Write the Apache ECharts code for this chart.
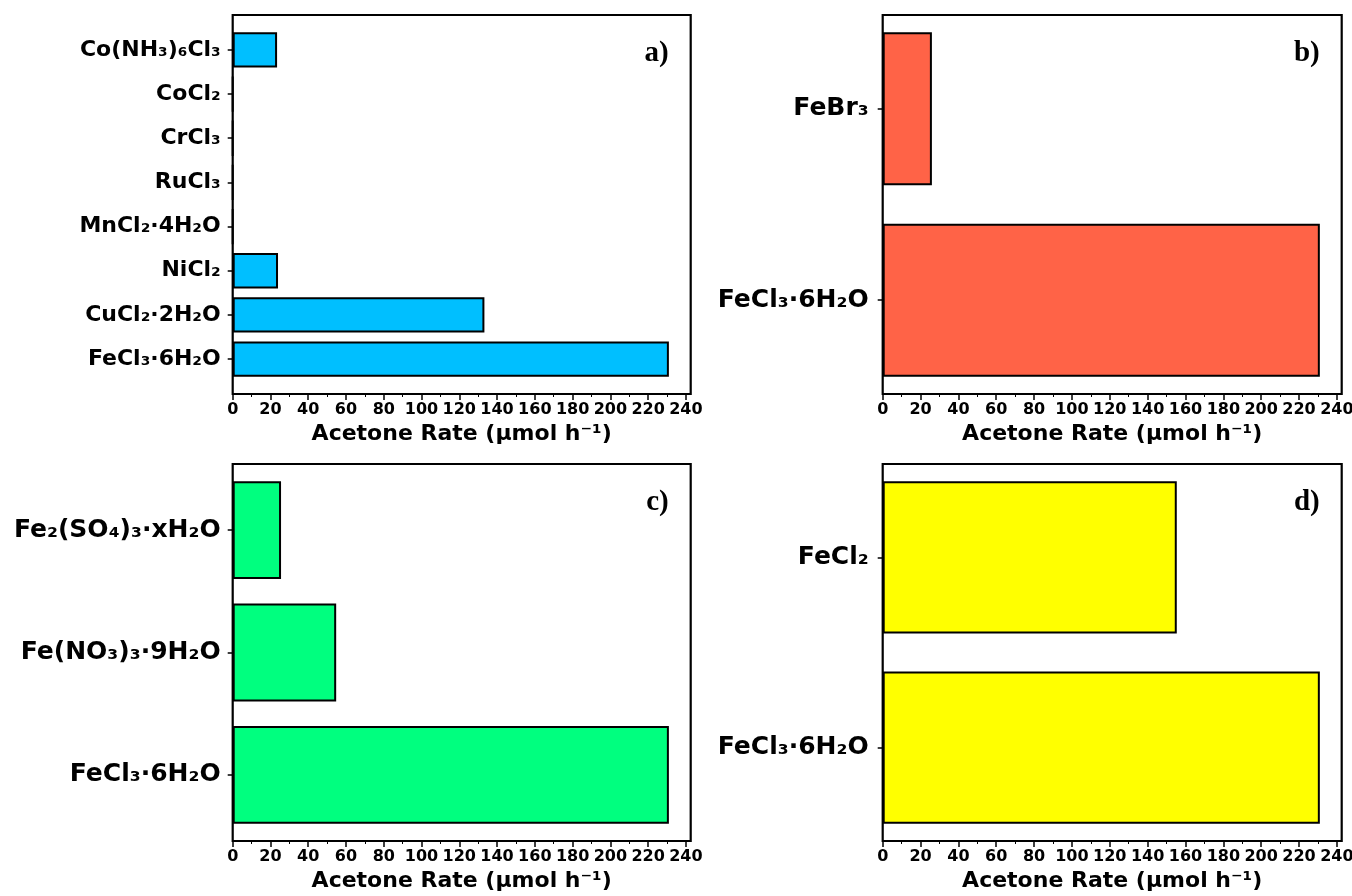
<!DOCTYPE html>
<html>
<head>
<meta charset="utf-8">
<script src="https://cdn.jsdelivr.net/npm/echarts@6/dist/echarts.min.js"></script>
<style>
html,body{margin:0;padding:0;background:#fff;}
#chart{width:1352px;height:896px;}
</style>
</head>
<body>
<div id="chart"></div>
<script>
// ---- data (bottom-to-top order, as in the reference) ----
const catsA = ['FeCl₃·6H₂O','CuCl₂·2H₂O','NiCl₂','MnCl₂·4H₂O','RuCl₃','CrCl₃','CoCl₂','Co(NH₃)₆Cl₃'];
const valsA = [231, 133.3, 24, 0, 0, 0, 0, 23.5];
const catsB = ['FeCl₃·6H₂O','FeBr₃'];
const valsB = [231, 26];
const catsC = ['FeCl₃·6H₂O','Fe(NO₃)₃·9H₂O','Fe₂(SO₄)₃·xH₂O'];
const valsC = [231, 54.8, 25.6];
const catsD = ['FeCl₃·6H₂O','FeCl₂'];
const valsD = [231, 155.4];
const xTicks = [0,20,40,60,80,100,120,140,160,180,200,220,240];
const xMinorTicks = [10,30,50,70,90,110,130,150,170,190,210,230];
const xMax = 242.55;
const xName = 'Acetone Rate (μmol h⁻¹)';
const panelTags = ['a)','b)','c)','d)'];

const FONT = 'DejaVu Sans';
const panels = [
  {cats: catsA, vals: valsA, color: '#00BFFF', frame: [232.7, 15, 690.7, 394], labelSize: 22, labelMargin: 12},
  {cats: catsB, vals: valsB, color: '#FF6347', frame: [882.7, 15, 1341.7, 394], labelSize: 25, labelMargin: 14},
  {cats: catsC, vals: valsC, color: '#00FF7F', frame: [232.7, 464, 690.7, 841], labelSize: 25, labelMargin: 12},
  {cats: catsD, vals: valsD, color: '#FFFF00', frame: [882.7, 464, 1341.7, 841], labelSize: 25, labelMargin: 14}
];

const option = {
  backgroundColor: '#ffffff',
  animation: false,
  grid: [], xAxis: [], yAxis: [], series: [], graphic: []
};

panels.forEach((p, i) => {
  const [l, t, r, b] = p.frame;
  const fw = r - l, fh = b - t;
  const n = p.cats.length;
  const total = (n - 0.2) * 1.1;       // bar span plus 5% margins
  const u = fh / total;
  const dh = n * u;
  const inset = (fh - dh) / 2;

  option.grid.push({left: l, top: t, width: fw, height: fh, show: true, z: 5,
    borderColor: '#000', borderWidth: 2.2, backgroundColor: 'transparent',
    containLabel: false, outerBoundsMode: 'none'});
  option.grid.push({left: l, top: t + inset, width: fw, height: dh,
    containLabel: false, outerBoundsMode: 'none'});

  const tickStyle = {color: '#000', width: 1.5};
  option.xAxis.push({
    gridIndex: 2 * i, type: 'value', min: 0, max: xMax, position: 'bottom',
    axisLine: {show: false}, splitLine: {show: false},
    axisTick: {show: true, length: 6, lineStyle: tickStyle, customValues: xTicks},
    axisLabel: {customValues: xTicks, fontFamily: FONT, fontWeight: 'bold', fontSize: 16, color: '#000', margin: 8},
    name: xName, nameLocation: 'middle', nameGap: 29,
    nameTextStyle: {fontFamily: FONT, fontWeight: 'bold', fontSize: 22, color: '#000'}
  });
  option.xAxis.push({
    gridIndex: 2 * i, type: 'value', min: 0, max: xMax, position: 'bottom',
    axisLine: {show: false}, splitLine: {show: false},
    axisTick: {show: true, length: 3, lineStyle: {color: '#000', width: 1}, customValues: xMinorTicks},
    axisLabel: {show: false}
  });
  option.xAxis.push({gridIndex: 2 * i + 1, type: 'value', min: 0, max: xMax, show: false});

  option.yAxis.push({gridIndex: 2 * i, type: 'value', show: false});
  option.yAxis.push({
    gridIndex: 2 * i + 1, type: 'category', data: p.cats, boundaryGap: true,
    axisLine: {show: false}, splitLine: {show: false},
    axisTick: {show: true, alignWithLabel: true, length: 5, lineStyle: tickStyle},
    axisLabel: {fontFamily: FONT, fontWeight: 'bold', fontSize: p.labelSize, color: '#000', margin: p.labelMargin}
  });

  option.series.push({
    type: 'bar', xAxisIndex: 3 * i + 2, yAxisIndex: 2 * i + 1,
    data: p.vals, barWidth: '80%', silent: true,
    itemStyle: {color: p.color, borderColor: '#000', borderWidth: 2}
  });

  option.graphic.push({
    type: 'text', z: 100,
    style: {text: panelTags[i], x: r - 22, y: t + 39, textAlign: 'right', textVerticalAlign: 'middle',
      fontFamily: 'Liberation Serif', fontWeight: 'bold', fontSize: 29, fill: '#000'}
  });
});

const chart = echarts.init(document.getElementById('chart'), null, {renderer: 'canvas'});
chart.setOption(option);
</script>
</body>
</html>
